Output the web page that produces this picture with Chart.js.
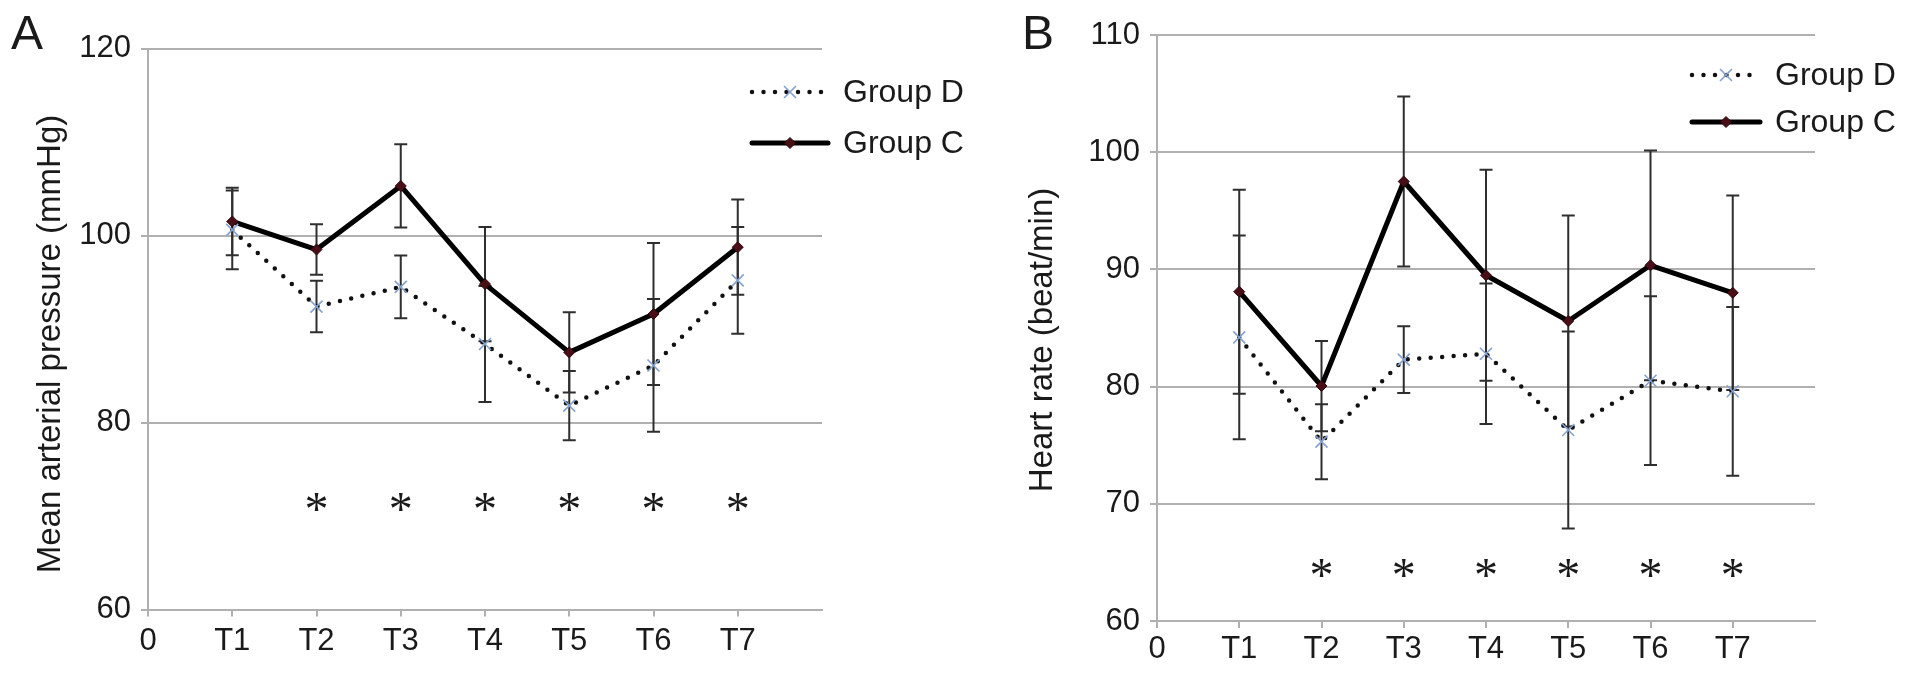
<!DOCTYPE html>
<html>
<head>
<meta charset="utf-8">
<script src="https://cdn.jsdelivr.net/npm/chart.js@4"></script>
<style>
  html, body { margin: 0; padding: 0; background: #ffffff; width: 1913px; height: 676px; overflow: hidden; }
  canvas { position: absolute; top: 0; }
  #cA { left: 0; }
  #cB { left: 1000px; }
</style>
</head>
<body>
<canvas id="cA" width="1000" height="676"></canvas>
<canvas id="cB" width="913" height="676"></canvas>
<script>
// ---------------- DATA ----------------
const xLabels = ['0', 'T1', 'T2', 'T3', 'T4', 'T5', 'T6', 'T7'];
const timePoints = ['T1', 'T2', 'T3', 'T4', 'T5', 'T6', 'T7'];

// Panel A: mean arterial pressure (mmHg)
const mapGroupD    = [100.6, 92.4, 94.5, 88.4, 81.8, 86.1, 95.2];
const mapGroupDErr = [4.2, 2.75, 3.35, 6.2, 3.7, 7.1, 5.7];
const mapGroupC    = [101.5, 98.5, 105.3, 94.8, 87.5, 91.6, 98.75];
const mapGroupCErr = [3.6, 2.7, 4.45, 6.1, 4.3, 7.6, 5.1];
const mapYTicks    = [60, 80, 100, 120];
const mapSigTimes  = ['T2', 'T3', 'T4', 'T5', 'T6', 'T7'];
const mapSigLevel  = 71.5;

// Panel B: heart rate (beat/min)
const hrGroupD    = [84.2, 75.3, 82.3, 82.8, 76.3, 80.5, 79.6];
const hrGroupDErr = [8.7, 3.2, 2.85, 6.0, 8.4, 7.2, 7.2];
const hrGroupC    = [88.1, 80.05, 97.5, 89.5, 85.6, 90.35, 88.0];
const hrGroupCErr = [8.7, 3.85, 7.25, 9.0, 9.0, 9.8, 8.3];
const hrYTicks    = [60, 70, 80, 90, 100, 110];
const hrSigTimes  = ['T2', 'T3', 'T4', 'T5', 'T6', 'T7'];
const hrSigLevel  = 64.5;

const seriesNames = ['Group D', 'Group C'];

// ---------------- STYLE ----------------
const FONT = '"Liberation Sans", Arial, Helvetica, sans-serif';
const GRID = '#b0b0b0';
const TEXT = '#1a1a1a';
const C_MARK = '#4a0f16';
const D_MARK = '#86a2cf';

Chart.defaults.font.family = FONT;
Chart.defaults.color = TEXT;

function toPoints(values) {
  return values.map((v, i) => ({ x: xLabels.indexOf(timePoints[i]), y: v }));
}

function drawMarker(ctx, style, cx, cy) {
  ctx.save();
  if (style === 'diamond') {
    ctx.fillStyle = C_MARK;
    ctx.strokeStyle = '#2a060a';
    ctx.lineWidth = 1;
    const r = 5.5;
    ctx.beginPath();
    ctx.moveTo(cx, cy - r); ctx.lineTo(cx + r, cy); ctx.lineTo(cx, cy + r); ctx.lineTo(cx - r, cy);
    ctx.closePath(); ctx.fill(); ctx.stroke();
  } else {
    ctx.strokeStyle = D_MARK;
    ctx.lineWidth = 1.6;
    const r = 6;
    ctx.beginPath();
    ctx.moveTo(cx - r, cy - r); ctx.lineTo(cx + r, cy + r);
    ctx.moveTo(cx + r, cy - r); ctx.lineTo(cx - r, cy + r);
    ctx.stroke();
  }
  ctx.restore();
}

const errorBarPlugin = {
  id: 'errorBars',
  beforeDatasetsDraw(chart, args, opts) {
    const { ctx, scales: { x, y } } = chart;
    ctx.save();
    ctx.strokeStyle = opts.color;
    ctx.lineWidth = opts.width;
    chart.data.datasets.forEach(ds => {
      if (!ds.errors) return;
      ds.data.forEach((p, i) => {
        const e = ds.errors[i];
        const px = x.getPixelForValue(p.x);
        const yt = y.getPixelForValue(p.y + e);
        const yb = y.getPixelForValue(p.y - e);
        ctx.beginPath();
        ctx.moveTo(px, yt); ctx.lineTo(px, yb);
        ctx.moveTo(px - opts.cap, yt); ctx.lineTo(px + opts.cap, yt);
        ctx.moveTo(px - opts.cap, yb); ctx.lineTo(px + opts.cap, yb);
        ctx.stroke();
      });
    });
    ctx.restore();
  }
};

const markerPlugin = {
  id: 'customMarkers',
  afterDatasetsDraw(chart) {
    const { ctx, scales: { x, y } } = chart;
    chart.data.datasets.forEach(ds => {
      ds.data.forEach(p => drawMarker(ctx, ds.markerStyle, x.getPixelForValue(p.x), y.getPixelForValue(p.y)));
    });
  }
};

const sigPlugin = {
  id: 'significance',
  afterDatasetsDraw(chart, args, opts) {
    const { ctx, scales: { x, y } } = chart;
    ctx.save();
    ctx.font = opts.font;
    ctx.fillStyle = TEXT;
    ctx.textAlign = 'center';
    ctx.textBaseline = 'alphabetic';
    const m = ctx.measureText('*');
    const asc = m.actualBoundingBoxAscent, desc = m.actualBoundingBoxDescent;
    opts.times.forEach(t => {
      const px = x.getPixelForValue(xLabels.indexOf(t));
      const py = y.getPixelForValue(opts.level);
      ctx.fillText('*', px, py + (asc - desc) / 2);
    });
    ctx.restore();
  }
};

// y-axis title, drawn rotated beside the y scale
const yTitlePlugin = {
  id: 'yTitle',
  afterDraw(chart, args, opts) {
    const { ctx } = chart;
    ctx.save();
    ctx.translate(opts.x, opts.y);
    ctx.rotate(-Math.PI / 2);
    ctx.font = opts.font;
    ctx.fillStyle = TEXT;
    ctx.textAlign = 'center';
    ctx.textBaseline = 'middle';
    ctx.fillText(opts.text, 0, 0);
    ctx.restore();
  }
};

const legendPlugin = {
  id: 'customLegend',
  afterDraw(chart, args, opts) {
    const { ctx } = chart;
    ctx.save();
    opts.rows.forEach(row => {
      const ds = chart.data.datasets[row.index];
      ctx.save();
      ctx.strokeStyle = ds.borderColor;
      ctx.lineWidth = ds.borderWidth;
      ctx.lineCap = ds.borderCapStyle || 'butt';
      ctx.setLineDash(ds.borderDash || []);
      ctx.beginPath();
      ctx.moveTo(opts.x1, row.y); ctx.lineTo(opts.x2, row.y);
      ctx.stroke();
      ctx.restore();
      drawMarker(ctx, ds.markerStyle, (opts.x1 + opts.x2) / 2, row.y);
      ctx.font = opts.font;
      ctx.fillStyle = TEXT;
      ctx.textAlign = 'left';
      ctx.textBaseline = 'middle';
      ctx.fillText(ds.label, opts.textX, row.y + 1);
    });
    ctx.restore();
  }
};

const panelLabelPlugin = {
  id: 'panelLabel',
  afterDraw(chart, args, opts) {
    const { ctx } = chart;
    ctx.save();
    ctx.font = opts.font;
    ctx.fillStyle = TEXT;
    ctx.textAlign = 'left';
    ctx.textBaseline = 'alphabetic';
    ctx.fillText(opts.text, opts.x, opts.y);
    ctx.restore();
  }
};

function makeChart(canvasId, cfg) {
  const datasets = [
    {
      label: seriesNames[0],
      data: toPoints(cfg.d),
      errors: cfg.dErr,
      markerStyle: 'cross',
      borderColor: '#111111',
      borderWidth: 4.5,
      borderDash: [0, 11.5],
      borderCapStyle: 'round',
      pointRadius: 0,
      showLine: true,
      tension: 0,
      order: 2
    },
    {
      label: seriesNames[1],
      data: toPoints(cfg.c),
      errors: cfg.cErr,
      markerStyle: 'diamond',
      borderColor: '#000000',
      borderWidth: 5,
      borderCapStyle: 'round',
      borderJoinStyle: 'round',
      pointRadius: 0,
      showLine: true,
      tension: 0,
      order: 1
    }
  ];
  return new Chart(document.getElementById(canvasId), {
    type: 'scatter',
    data: { datasets },
    options: {
      responsive: false,
      animation: false,
      devicePixelRatio: 1,
      layout: { padding: cfg.padding },
      plugins: {
        legend: { display: false },
        tooltip: { enabled: false },
        errorBars: { color: '#2e2e2e', width: 2, cap: 6.5 },
        significance: { times: cfg.sigTimes, level: cfg.sigLevel, font: '48px "Liberation Serif", "Times New Roman", serif' },
        customLegend: cfg.legend,
        panelLabel: cfg.panel,
        yTitle: cfg.yTitle
      },
      scales: {
        x: {
          type: 'linear',
          min: 0,
          max: 8,
          afterBuildTicks: s => { s.ticks = xLabels.map((l, i) => ({ value: i })); },
          afterFit: s => { s.height = cfg.xHeight; },
          ticks: {
            autoSkip: false,
            maxRotation: 0,
            padding: cfg.xTickPad,
            font: { size: 31 },
            color: TEXT,
            callback: v => xLabels[v]
          },
          grid: { drawOnChartArea: false, drawTicks: true, tickLength: 7, color: GRID, lineWidth: 2 },
          border: { display: true, color: GRID, width: 2 }
        },
        y: {
          type: 'linear',
          min: cfg.yTicks[0],
          max: cfg.yTicks[cfg.yTicks.length - 1],
          afterBuildTicks: s => { s.ticks = cfg.yTicks.map(v => ({ value: v })); },
          afterFit: s => { s.width = cfg.yWidth; },
          ticks: { padding: 10, font: { size: 31 }, color: TEXT },
          grid: { color: GRID, lineWidth: 2, tickLength: 7 },
          border: { display: true, color: GRID, width: 2 }
        }
      }
    },
    plugins: [errorBarPlugin, markerPlugin, sigPlugin, legendPlugin, panelLabelPlugin, yTitlePlugin]
  });
}

makeChart('cA', {
  d: mapGroupD, dErr: mapGroupDErr, c: mapGroupC, cErr: mapGroupCErr,
  yTicks: mapYTicks, sigTimes: mapSigTimes, sigLevel: mapSigLevel,
  yTitle: { text: 'Mean arterial pressure (mmHg)', x: 51, y: 344, font: '33px ' + FONT },
  padding: { top: 48.5, right: 178, bottom: 0, left: 0 },
  yWidth: 148, xHeight: 66.5, xTickPad: 6,
  legend: { x1: 752, x2: 828, textX: 843, font: '32px ' + FONT, rows: [{ index: 0, y: 92 }, { index: 1, y: 143 }] },
  panel: { text: 'A', x: 11, y: 49, font: '48px ' + FONT }
});

makeChart('cB', {
  d: hrGroupD, dErr: hrGroupDErr, c: hrGroupC, cErr: hrGroupCErr,
  yTicks: hrYTicks, sigTimes: hrSigTimes, sigLevel: hrSigLevel,
  yTitle: { text: 'Heart rate (beat/min)', x: 43, y: 340, font: '33px ' + FONT },
  padding: { top: 35, right: 98, bottom: 0, left: 0 },
  yWidth: 157, xHeight: 55, xTickPad: 3,
  legend: { x1: 692, x2: 760, textX: 775, font: '32px ' + FONT, rows: [{ index: 0, y: 75 }, { index: 1, y: 122 }] },
  panel: { text: 'B', x: 22, y: 49, font: '48px ' + FONT }
});
</script>
</body>
</html>
